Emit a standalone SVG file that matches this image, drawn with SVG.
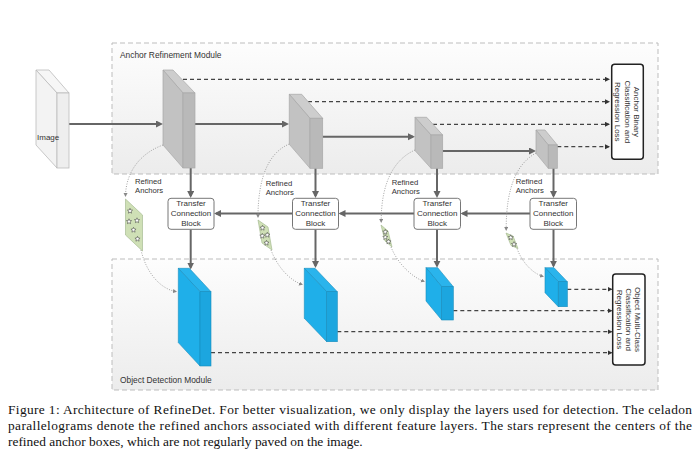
<svg xmlns="http://www.w3.org/2000/svg" width="700" height="469" viewBox="0 0 700 469">
<defs>
<linearGradient id="modbg" x1="0" y1="0" x2="0" y2="1">
<stop offset="0" stop-color="#fdfdfd"/>
<stop offset="1" stop-color="#ececec"/>
</linearGradient>
<marker id="ahS" markerUnits="userSpaceOnUse" markerWidth="8" markerHeight="8" refX="5" refY="3.5" orient="auto">
<path d="M0,0 L7,3.5 L0,7 z" fill="#666"/>
</marker>
<marker id="ahD" markerUnits="userSpaceOnUse" markerWidth="6" markerHeight="6" refX="4" refY="2.5" orient="auto">
<path d="M0,0 L5,2.5 L0,5 z" fill="#333"/>
</marker>
<marker id="ahT" markerUnits="userSpaceOnUse" markerWidth="5" markerHeight="5" refX="3" refY="2" orient="auto">
<path d="M0,0 L4,2 L0,4 z" fill="#888"/>
</marker>
<path id="star" d="M0,-2.7 L0.73,-1 L2.57,-0.83 L1.18,0.38 L1.59,2.18 L0,1.24 L-1.59,2.18 L-1.18,0.38 L-2.57,-0.83 L-0.73,-1 z"/>
</defs>
<style>
.mod{fill:url(#modbg);stroke:#bdbdbd;stroke-width:1;stroke-dasharray:5,3}
.lbl{font-family:"Liberation Sans",Arial,sans-serif;fill:#333}
.sol{stroke:#666;stroke-width:2;fill:none;marker-end:url(#ahS)}
.dsh{stroke:#444;stroke-width:1.2;stroke-dasharray:4,3;fill:none;marker-end:url(#ahD)}
.dot{stroke:#8c8c8c;stroke-width:0.8;stroke-dasharray:1,1.5;fill:none;marker-end:url(#ahT)}
.gT{fill:#cdcdcd;stroke:#a8a8a8;stroke-width:0.7}
.gL{fill:#c2c2c2;stroke:#a8a8a8;stroke-width:0.7}
.gR{fill:#b9b9b9;stroke:#a8a8a8;stroke-width:0.7}
.bT{fill:#2ab4ec;stroke:#178dbd;stroke-width:0.6}
.bL{fill:#1fafe9;stroke:#178dbd;stroke-width:0.6}
.bR{fill:#1ca6df;stroke:#178dbd;stroke-width:0.6}
.iT{fill:#f6f6f6;stroke:#bbb;stroke-width:0.8}
.iL{fill:#f3f3f3;stroke:#bbb;stroke-width:0.8}
.iR{fill:#eeeeee;stroke:#bbb;stroke-width:0.8}
.tcb{fill:#fff;stroke:#777;stroke-width:1}
.loss{fill:#fff;stroke:#222;stroke-width:1.5}
.par{fill:#cfe0b6;stroke:#9db389;stroke-width:0.6}
.st{fill:#fff;stroke:#333;stroke-width:0.5}
.cap{font-family:"Liberation Serif","Times New Roman",serif;font-size:13.4px;fill:#111}
</style>

<g id="anchor-refinement-module">
<rect class="mod" x="112" y="43" width="546" height="131"/>
<text class="lbl" x="120" y="58" font-size="8.4">Anchor Refinement Module</text>
</g>
<g id="object-detection-module">
<rect class="mod" x="112" y="259" width="546" height="131"/>
<text class="lbl" x="120" y="383" font-size="8.4">Object Detection Module</text>
</g>

<g id="connectors">
<line class="sol" x1="69" y1="124" x2="161" y2="124"/>
<line class="sol" x1="195" y1="124" x2="287" y2="124"/>
<line class="sol" x1="322.7" y1="136.7" x2="413" y2="136.7"/>
<line class="sol" x1="442.7" y1="151" x2="534" y2="151"/>
<line class="dsh" x1="183" y1="79.3" x2="609" y2="79.3"/>
<line class="dsh" x1="308" y1="101.7" x2="609" y2="101.7"/>
<line class="dsh" x1="433" y1="124.3" x2="609" y2="124.3"/>
<line class="dsh" x1="557.3" y1="146.7" x2="609" y2="146.7"/>
<line class="sol" x1="190.7" y1="168" x2="190.7" y2="196"/>
<line class="sol" x1="315.5" y1="168.3" x2="315.5" y2="196"/>
<line class="sol" x1="437" y1="168.3" x2="437" y2="196"/>
<line class="sol" x1="553.5" y1="168.3" x2="553.5" y2="196"/>
<line class="sol" x1="530" y1="213.5" x2="462.5" y2="213.5"/>
<line class="sol" x1="414" y1="213.5" x2="340.5" y2="213.5"/>
<line class="sol" x1="292.5" y1="213.5" x2="216" y2="213.5"/>
<line class="sol" x1="190.7" y1="229.5" x2="190.7" y2="267.5"/>
<line class="sol" x1="315.5" y1="229.5" x2="315.5" y2="266"/>
<line class="sol" x1="437" y1="229.5" x2="437" y2="265.7"/>
<line class="sol" x1="553.5" y1="229.5" x2="553.5" y2="265.7"/>
<line class="dsh" x1="567.3" y1="289.3" x2="611.5" y2="289.3"/>
<line class="dsh" x1="453.3" y1="310.7" x2="611.5" y2="310.7"/>
<line class="dsh" x1="337.3" y1="331.7" x2="611.5" y2="331.7"/>
<line class="dsh" x1="211" y1="352.7" x2="611.5" y2="352.7"/>
<path class="dot" d="M163,145 C141,153 126,171 125.5,196"/>
<path class="dot" d="M141,250 C146,272 160,289 176,291.5"/>
<path class="dot" d="M289.3,144 C270,152 258,175 258,217"/>
<path class="dot" d="M271,250 C277,266 289,280 302,284.5"/>
<path class="dot" d="M415,150 C395,159 381,181 381.2,222"/>
<path class="dot" d="M391,247 C397,262 410,276 424,281.5"/>
<path class="dot" d="M536,153 C518,163 506,185 506.2,230"/>
<path class="dot" d="M517,248.5 C522,262 532,273 543,276.5"/>
</g>

<g id="image">
<polygon class="iT" points="36,70 49,70 69,93 57,93"/>
<polygon class="iL" points="36,70 57,93 57,168 36,145"/>
<rect class="iR" x="57" y="93" width="12" height="75"/>
<text class="lbl" x="37" y="140" font-size="8">Image</text>
</g>

<g id="arm-layer-1">
<polygon class="gT" points="163,70 173,70 195,93 183,93"/>
<polygon class="gL" points="163,70 183,93 183,168 163,145"/>
<rect class="gR" x="183" y="93" width="12" height="75"/>
</g>
<g id="arm-layer-2">
<polygon class="gT" points="289.3,94.3 301.7,94.3 322.7,118.3 310,118.3"/>
<polygon class="gL" points="289.3,94.3 310,118.3 310,168.3 289.3,144.3"/>
<rect class="gR" x="310" y="118.3" width="12.7" height="50"/>
</g>
<g id="arm-layer-3">
<polygon class="gT" points="415,117.3 426.7,117.3 442.7,135 431,135"/>
<polygon class="gL" points="415,117.3 431,135 431,168.3 415,150.6"/>
<rect class="gR" x="431" y="135" width="11.7" height="33.3"/>
</g>
<g id="arm-layer-4">
<polygon class="gT" points="536,130 545,130 557.3,145 548.3,145"/>
<polygon class="gL" points="536,130 548.3,145 548.3,168.3 536,153.3"/>
<rect class="gR" x="548.3" y="145" width="9" height="23.3"/>
</g>

<g id="arm-loss">
<rect class="loss" x="611.7" y="64.3" width="31.6" height="95" rx="3"/>
<g transform="translate(627.5,111.8) rotate(90)" class="lbl" font-size="8" text-anchor="middle">
<text x="0" y="-6.7">Anchor Binary</text>
<text x="0" y="2.8">Classification and</text>
<text x="0" y="12.3">Regression Loss</text>
</g>
</g>

<g id="refined-anchors-1">
<text class="lbl" x="135" y="183.5" font-size="7.7">Refined</text>
<text class="lbl" x="135" y="193" font-size="7.7">Anchors</text>
<polygon class="par" points="125.5,199 142.5,215 142.5,251 125.5,235"/>
<use href="#star" class="st" x="130" y="211"/>
<use href="#star" class="st" x="129" y="221.5"/>
<use href="#star" class="st" x="137" y="220.5"/>
<use href="#star" class="st" x="133.5" y="230"/>
<use href="#star" class="st" x="137.5" y="239"/>
</g>
<g id="refined-anchors-2">
<text class="lbl" x="265.7" y="185.5" font-size="7.7">Refined</text>
<text class="lbl" x="265.7" y="194.5" font-size="7.7">Anchors</text>
<polygon class="par" points="258,220 268,227 272,250 262,243"/>
<use href="#star" class="st" x="262.5" y="228"/>
<use href="#star" class="st" x="262.3" y="236"/>
<use href="#star" class="st" x="267.3" y="235"/>
<use href="#star" class="st" x="266.5" y="243"/>
</g>
<g id="refined-anchors-3">
<text class="lbl" x="391.7" y="185" font-size="7.7">Refined</text>
<text class="lbl" x="391.7" y="194" font-size="7.7">Anchors</text>
<polygon class="par" points="381,225 388,231 392,247 385,241"/>
<use href="#star" class="st" x="385.3" y="232"/>
<use href="#star" class="st" x="385.3" y="237.3"/>
<use href="#star" class="st" x="388.5" y="241.7"/>
</g>
<g id="refined-anchors-4">
<text class="lbl" x="515.7" y="184" font-size="7.7">Refined</text>
<text class="lbl" x="515.7" y="193" font-size="7.7">Anchors</text>
<polygon class="par" points="506,233 513,236 518,248.5 511,245.5"/>
<use href="#star" class="st" x="510.7" y="237.5"/>
<use href="#star" class="st" x="514" y="244.3"/>
</g>

<g id="tcb-1">
<rect class="tcb" x="168" y="198.3" width="46" height="31" rx="3"/>
<g class="lbl" font-size="8" text-anchor="middle"><text x="191" y="206.3">Transfer</text><text x="191" y="216.3">Connection</text><text x="191" y="226.3">Block</text></g>
</g>
<g id="tcb-2">
<rect class="tcb" x="292.5" y="198.3" width="46" height="31" rx="3"/>
<g class="lbl" font-size="8" text-anchor="middle"><text x="315.5" y="206.3">Transfer</text><text x="315.5" y="216.3">Connection</text><text x="315.5" y="226.3">Block</text></g>
</g>
<g id="tcb-3">
<rect class="tcb" x="414" y="198.3" width="46.5" height="31" rx="3"/>
<g class="lbl" font-size="8" text-anchor="middle"><text x="437.2" y="206.3">Transfer</text><text x="437.2" y="216.3">Connection</text><text x="437.2" y="226.3">Block</text></g>
</g>
<g id="tcb-4">
<rect class="tcb" x="530" y="198.3" width="46.5" height="31" rx="3"/>
<g class="lbl" font-size="8" text-anchor="middle"><text x="553.3" y="206.3">Transfer</text><text x="553.3" y="216.3">Connection</text><text x="553.3" y="226.3">Block</text></g>
</g>

<g id="odm-layer-1">
<polygon class="bT" points="178.3,268.3 189.3,268.3 211,291.7 200,291.7"/>
<polygon class="bL" points="178.3,268.3 200,291.7 200,366 178.3,342.6"/>
<rect class="bR" x="200" y="291.7" width="11" height="74.3"/>
</g>
<g id="odm-layer-2">
<polygon class="bT" points="304.3,268.3 315,268.3 337.3,291.7 326.7,291.7"/>
<polygon class="bL" points="304.3,268.3 326.7,291.7 326.7,341.7 304.3,318.3"/>
<rect class="bR" x="326.7" y="291.7" width="10.6" height="50"/>
</g>
<g id="odm-layer-3">
<polygon class="bT" points="426,267.7 437.7,267.7 453.3,286.7 441.7,286.7"/>
<polygon class="bL" points="426,267.7 441.7,286.7 441.7,320 426,301"/>
<rect class="bR" x="441.7" y="286.7" width="11.6" height="33.3"/>
</g>
<g id="odm-layer-4">
<polygon class="bT" points="545,267.7 554,267.7 567.3,281.7 558.3,281.7"/>
<polygon class="bL" points="545,267.7 558.3,281.7 558.3,306.7 545,292.7"/>
<rect class="bR" x="558.3" y="281.7" width="9" height="25"/>
</g>

<g id="odm-loss">
<rect class="loss" x="612.7" y="274" width="32.3" height="91" rx="3"/>
<g transform="translate(628.8,319.5) rotate(90)" class="lbl" font-size="8" text-anchor="middle">
<text x="0" y="-6.7">Object Multi-Class</text>
<text x="0" y="2.8">Classification and</text>
<text x="0" y="12.3">Regression Loss</text>
</g>
</g>

<g id="caption">
<text class="cap" x="8" y="413.5" textLength="684" lengthAdjust="spacing">Figure 1: Architecture of RefineDet. For better visualization, we only display the layers used for detection. The celadon</text>
<text class="cap" x="8" y="429.5" textLength="684" lengthAdjust="spacing">parallelograms denote the refined anchors associated with different feature layers. The stars represent the centers of the</text>
<text class="cap" x="8" y="445.5">refined anchor boxes, which are not regularly paved on the image.</text>
</g>
</svg>
